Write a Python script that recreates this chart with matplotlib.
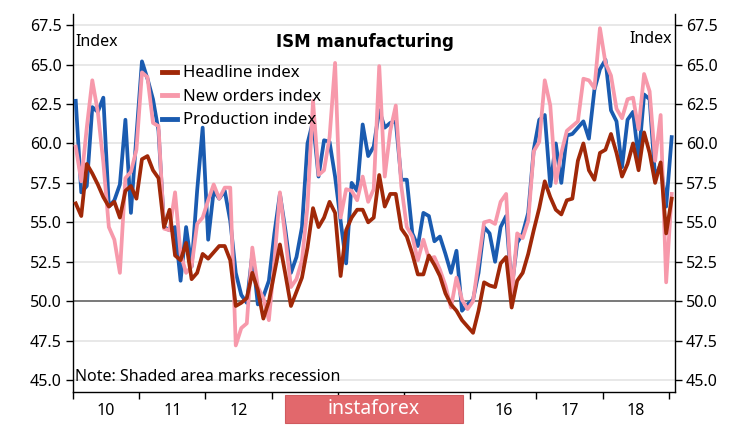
import numpy as np
import matplotlib.pyplot as plt
from matplotlib.patches import Rectangle

plt.rcParams['font.family'] = ['Noto Sans', 'DejaVu Sans']

# monthly, Jan 2010 - Jan 2019
headline = [56.2, 55.4, 58.7, 58.1, 57.4, 56.6, 56.0, 56.3, 55.3, 57.0, 57.3, 56.5,
            59.0, 59.2, 58.3, 57.8, 54.7, 55.8, 52.9, 52.6, 53.7, 51.4, 51.8, 53.0,
            52.7, 53.1, 53.5, 53.5, 52.6, 49.7, 49.9, 50.2, 51.8, 50.7, 48.9, 50.0,
            51.8, 53.6, 51.7, 49.7, 50.6, 51.5, 53.4, 55.9, 54.7, 55.3, 56.3, 55.6,
            51.6, 54.5, 55.3, 55.8, 55.8, 55.0, 55.3, 58.0, 56.0, 56.8, 56.8, 54.6,
            54.1, 53.0, 51.7, 51.7, 52.9, 52.3, 51.6, 50.5, 49.8, 49.4, 48.8, 48.4,
            48.0, 49.4, 51.2, 51.0, 50.9, 52.4, 52.8, 49.6, 51.3, 51.8, 53.0, 54.5,
            55.9, 57.6, 56.6, 55.8, 55.5, 56.4, 56.5, 58.9, 60.0, 58.3, 57.7, 59.4,
            59.6, 60.6, 59.4, 57.9, 58.7, 60.0, 58.3, 60.7, 59.4, 57.5, 58.8, 54.3,
            56.5]
new_orders = [59.8, 57.6, 61.0, 64.0, 62.0, 58.8, 54.7, 53.9, 51.8, 57.8, 58.2, 59.6,
              64.5, 64.2, 61.3, 61.1, 54.6, 54.5, 56.9, 53.0, 51.8, 52.2, 54.9, 55.3,
              56.4, 57.4, 56.5, 57.2, 57.2, 47.2, 48.3, 48.6, 53.4, 50.9, 50.2, 48.8,
              52.5, 56.9, 54.0, 50.9, 51.4, 52.6, 56.0, 62.7, 58.0, 58.3, 60.4, 65.1,
              55.3, 57.1, 57.0, 56.4, 57.9, 56.3, 57.1, 64.9, 57.9, 60.8, 62.4, 57.3,
              54.7, 54.1, 52.6, 53.9, 52.7, 52.8, 52.0, 51.0, 49.6, 51.5, 50.1, 49.5,
              50.0, 52.5, 55.0, 55.1, 54.9, 56.3, 56.8, 50.3, 54.3, 54.0, 55.1, 59.5,
              60.1, 64.0, 62.4, 57.5, 59.4, 60.8, 61.1, 61.4, 64.1, 64.0, 63.5, 67.3,
              65.1, 64.3, 62.2, 61.6, 62.8, 62.9, 60.9, 64.4, 63.3, 58.9, 61.8, 51.2,
              56.8]
production = [62.7, 56.9, 57.3, 62.3, 62.0, 62.9, 56.0, 56.4, 57.4, 61.5, 55.6, 60.5,
              65.2, 64.1, 62.8, 60.8, 54.7, 54.5, 54.7, 51.3, 54.7, 52.2, 57.0, 61.0,
              53.9, 57.0, 56.5, 57.0, 55.1, 51.8, 50.4, 49.9, 53.0, 49.8, 50.3, 51.3,
              54.3, 56.8, 54.5, 51.8, 52.8, 54.7, 60.0, 61.4, 57.9, 60.2, 60.1, 57.9,
              55.1, 52.4, 57.5, 57.0, 61.2, 59.2, 59.8, 62.1, 61.0, 61.3, 61.4, 57.7,
              57.7, 54.3, 53.5, 55.6, 55.4, 53.8, 54.1, 53.0, 51.8, 53.2, 49.4, 49.8,
              50.1, 51.8, 54.7, 54.3, 52.5, 54.7, 55.4, 50.8, 53.7, 54.3, 55.6, 59.6,
              61.5, 61.8, 57.3, 60.0, 57.5, 60.5, 60.6, 61.0, 61.4, 60.3, 63.4, 64.7,
              65.3, 62.1, 61.4, 58.5, 61.5, 62.0, 59.0, 63.1, 62.8, 57.8, 58.7, 56.0,
              60.4]
# 13, 14 and 15 sit under the watermark box
years = ['10', '11', '12', '', '', '', '16', '17', '18']
yticks = [45.0, 47.5, 50.0, 52.5, 55.0, 57.5, 60.0, 62.5, 65.0, 67.5]

RED = '#A02808'
PINK = '#F799AB'
BLUE = '#1A5BB0'

fig = plt.figure(figsize=(7.47, 4.26), dpi=100)
ax = fig.add_axes([0.0977, 0.0798, 0.8059, 0.8873])

x = np.arange(len(headline)) + 0.5
lp, = ax.plot(x, production, color=BLUE, lw=2.7, label='Production index', zorder=3)
ln, = ax.plot(x, new_orders, color=PINK, lw=2.7, label='New orders index', zorder=4)
lh, = ax.plot(x, headline, color=RED, lw=2.7, label='Headline index', zorder=5)

ax.set_xlim(0, 109.1)
ax.set_ylim(44.25, 68.2)

for v in yticks:
    ax.axhline(v, color='#E8E8E8', lw=1.4, zorder=1)
ax.axhline(50, color='#7A7A7A', lw=1.4, zorder=2)

ax.spines['top'].set_visible(False)
for s in ['left', 'right', 'bottom']:
    ax.spines[s].set_linewidth(1.0)
    ax.spines[s].set_color('black')

ax.set_yticks(yticks)
ax.set_yticklabels([f'{v:.1f}' for v in yticks])
ax.tick_params(axis='y', which='both', left=True, right=True, labelleft=True,
               labelright=True, direction='out', length=5, width=1, labelsize=11.5, pad=3)

ax.set_xticks(np.arange(0, 109, 12))
ax.set_xticklabels([])
ax.set_xticks(np.arange(6, 108, 12), minor=True)
ax.set_xticklabels(years, minor=True)
ax.tick_params(axis='x', which='major', direction='out', length=5, width=1)
ax.tick_params(axis='x', which='minor', length=0, labelsize=11.5, pad=8)

ax.text(0.004, 0.927, 'Index', transform=ax.transAxes, fontsize=11.5, va='center', ha='left')
ax.text(0.995, 0.935, 'Index', transform=ax.transAxes, fontsize=11.5, va='center', ha='right')
ax.text(0.485, 0.927, 'ISM manufacturing', transform=ax.transAxes, fontsize=12,
        fontweight='bold', family=['DejaVu Sans'], va='center', ha='center')
ax.text(0.004, 0.04, 'Note: Shaded area marks recession', transform=ax.transAxes,
        fontsize=11.5, va='center', ha='left')

ax.legend(handles=[lh, ln, lp], loc='upper left', bbox_to_anchor=(0.148, 0.864),
          frameon=False, fontsize=12, handlelength=0.9, handletextpad=0.35,
          labelspacing=0.45, borderaxespad=0, borderpad=0)
for h in ax.get_legend().get_lines():
    h.set_linewidth(3.5)

fig.patches.append(Rectangle((285 / 747, 3 / 426), 178 / 747, 28 / 426,
                             transform=fig.transFigure, facecolor='#E2686C',
                             edgecolor='#D05A5E', lw=0.8, zorder=10))
fig.text(374 / 747, 17 / 426, 'instaforex', color='white', fontsize=14,
         ha='center', va='center', zorder=11)

fig.savefig('out.png', dpi=100)
